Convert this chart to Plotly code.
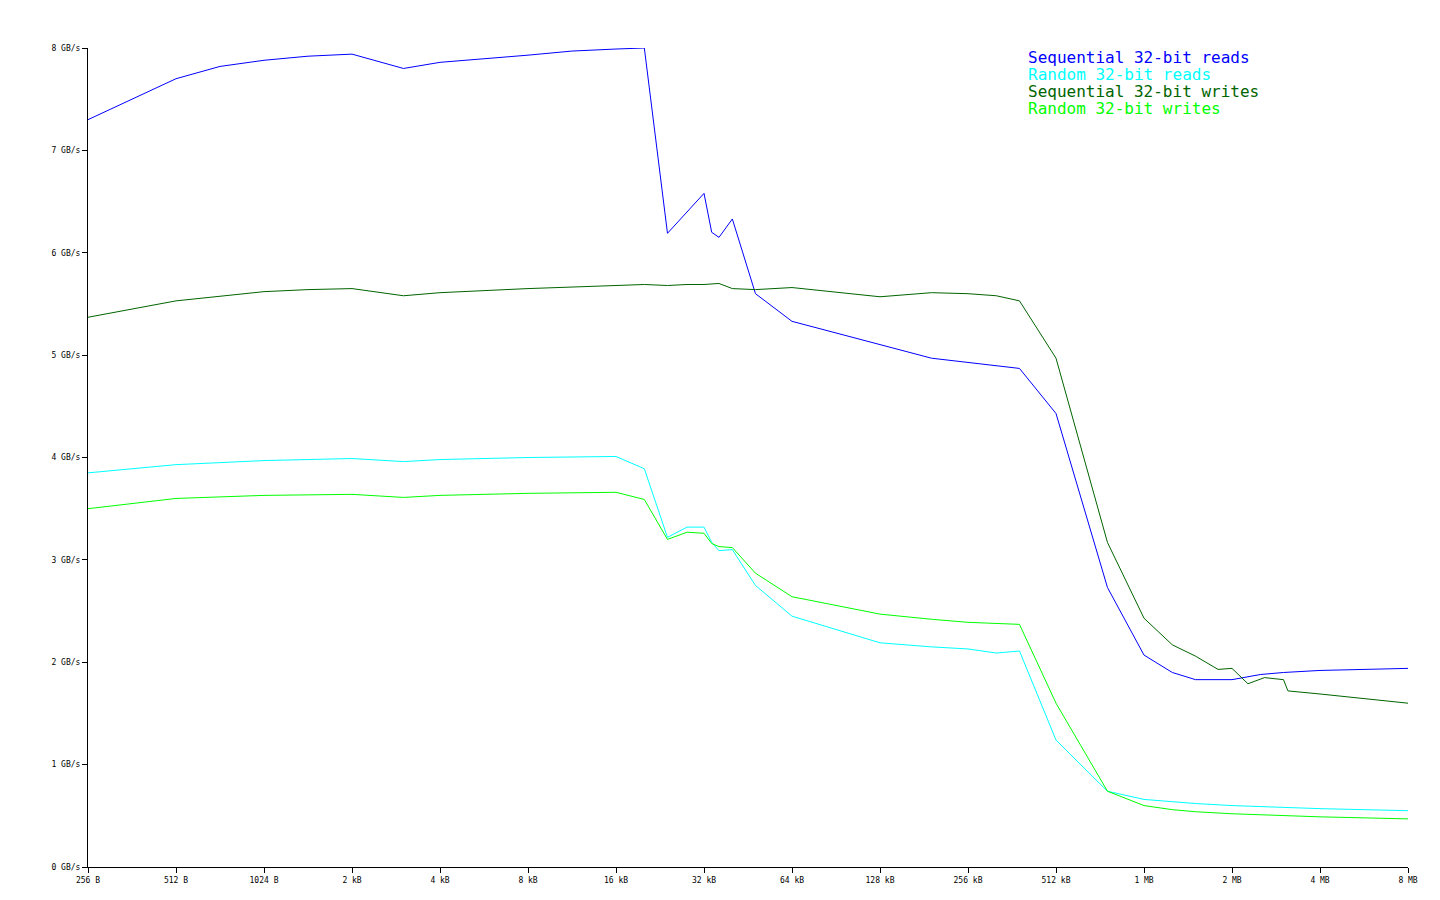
import plotly.graph_objects as go

# block sizes in kB
seq_read_x = [0.25, 0.5, 0.707, 1, 1.414, 2, 3, 4, 8, 11.3, 16, 20, 24, 28, 32, 34, 36, 40, 48, 64, 128, 192, 384, 512, 768, 1024, 1280, 1536, 2048, 2560, 3072, 4096, 8192]
seq_read_y = [7.3, 7.7, 7.82, 7.88, 7.92, 7.94, 7.8, 7.86, 7.93, 7.97, 7.99, 8.0, 6.19, 6.4, 6.58, 6.2, 6.15, 6.33, 5.6, 5.33, 5.1, 4.97, 4.87, 4.43, 2.73, 2.07, 1.9, 1.83, 1.83, 1.88, 1.9, 1.92, 1.94]

rand_read_x = [0.25, 0.5, 1, 2, 3, 4, 8, 16, 20, 24, 28, 32, 34, 36, 40, 48, 64, 128, 192, 256, 320, 384, 512, 768, 1024, 1536, 2048, 4096, 8192]
rand_read_y = [3.85, 3.93, 3.97, 3.99, 3.96, 3.98, 4.0, 4.01, 3.89, 3.22, 3.32, 3.32, 3.17, 3.09, 3.1, 2.75, 2.45, 2.19, 2.15, 2.13, 2.09, 2.11, 1.24, 0.74, 0.66, 0.62, 0.6, 0.57, 0.55]

seq_write_x = [0.25, 0.5, 1, 1.414, 2, 3, 4, 8, 16, 20, 24, 28, 32, 36, 40, 48, 64, 128, 192, 256, 320, 384, 512, 768, 1024, 1280, 1536, 1835, 2048, 2322, 2645, 3072, 3182, 4096, 8192]
seq_write_y = [5.37, 5.53, 5.62, 5.64, 5.65, 5.58, 5.61, 5.65, 5.68, 5.69, 5.68, 5.69, 5.69, 5.70, 5.65, 5.64, 5.66, 5.57, 5.61, 5.60, 5.58, 5.53, 4.97, 3.17, 2.43, 2.17, 2.06, 1.93, 1.94, 1.79, 1.85, 1.83, 1.72, 1.69, 1.6]

rand_write_x = [0.25, 0.5, 1, 2, 3, 4, 8, 16, 20, 24, 28, 32, 34, 36, 40, 48, 64, 128, 192, 256, 384, 512, 768, 1024, 1280, 1536, 2048, 4096, 8192]
rand_write_y = [3.5, 3.6, 3.63, 3.64, 3.61, 3.63, 3.65, 3.66, 3.59, 3.2, 3.27, 3.26, 3.16, 3.13, 3.12, 2.87, 2.64, 2.47, 2.42, 2.39, 2.37, 1.6, 0.74, 0.6, 0.56, 0.54, 0.52, 0.49, 0.47]

tick_vals = [0.25, 0.5, 1, 2, 4, 8, 16, 32, 64, 128, 256, 512, 1024, 2048, 4096, 8192]
tick_text = ['256 B', '512 B', '1024 B', '2 kB', '4 kB', '8 kB', '16 kB', '32 kB', '64 kB',
             '128 kB', '256 kB', '512 kB', '1 MB', '2 MB', '4 MB', '8 MB']
y_vals = [0, 1, 2, 3, 4, 5, 6, 7, 8]
y_text = ['%d GB/s' % v for v in y_vals]

series = [
    ('Sequential 32-bit reads', seq_read_x, seq_read_y, '#0000ff'),
    ('Random 32-bit reads', rand_read_x, rand_read_y, '#00ffff'),
    ('Sequential 32-bit writes', seq_write_x, seq_write_y, '#006400'),
    ('Random 32-bit writes', rand_write_x, rand_write_y, '#00ff00'),
]

fig = go.Figure()
for i, (name, xs, ys, col) in enumerate(series):
    fig.add_trace(go.Scatter(x=xs, y=ys, mode='lines', name=name,
                             line=dict(color=col, width=1)))
    fig.add_annotation(text=name, xref='paper', yref='paper', x=0.7106, y=1.003 - i * 0.0208,
                       xanchor='left', yanchor='top', showarrow=False,
                       font=dict(color=col, size=16, family='DejaVu Sans Mono'))

fig.update_layout(
    width=1440, height=900,
    margin=dict(l=80, r=40, t=40, b=41),
    plot_bgcolor='white', paper_bgcolor='white',
    showlegend=False,
    font=dict(family='DejaVu Sans Mono', size=8, color='black'),
    xaxis=dict(type='log', range=[-0.60206, 3.91339], tickvals=tick_vals, ticktext=tick_text,
               showgrid=False, zeroline=False, showline=True, linecolor='black', automargin=False,
               ticks='outside', ticklen=5, tickcolor='black'),
    yaxis=dict(range=[0, 8], tickvals=y_vals, ticktext=y_text, showgrid=False, zeroline=False,
               showline=True, linecolor='black', ticks='outside', ticklen=5, tickcolor='black',
               automargin=False),
)
fig.write_html("out.html")
